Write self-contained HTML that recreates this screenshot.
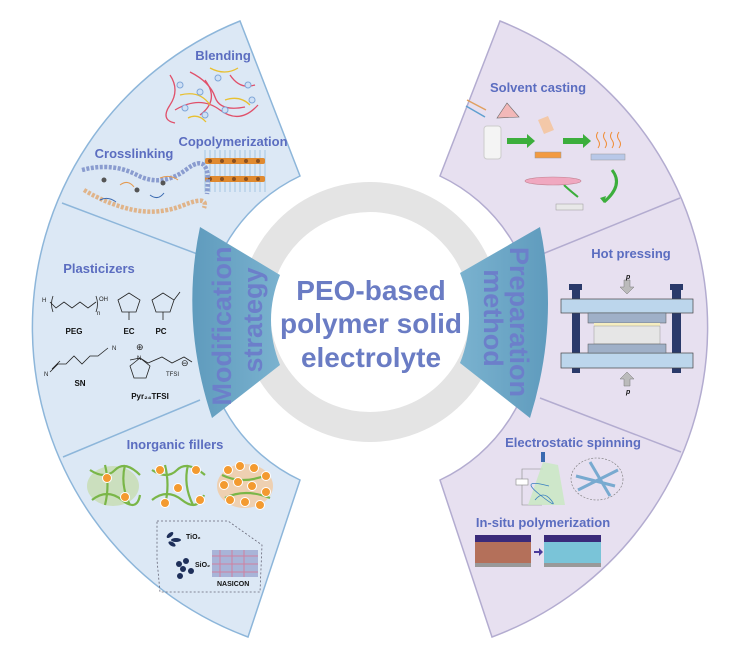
<!DOCTYPE html>
<html><head><meta charset="utf-8"><style>
html,body{margin:0;padding:0;background:#fff;}
svg{display:block;font-family:"Liberation Sans",sans-serif;}
.l{font-size:13px;font-weight:bold;fill:#5b6dc0;}
.c{font-size:8px;font-weight:bold;fill:#111;}
</style></head><body>
<svg width="736" height="650" viewBox="0 0 736 650" xmlns="http://www.w3.org/2000/svg">
<defs>
<linearGradient id="wl" x1="0" y1="0" x2="1" y2="0"><stop offset="0" stop-color="#5f9bbd"/><stop offset="1" stop-color="#7ab2cf"/></linearGradient>
<linearGradient id="wr" x1="1" y1="0" x2="0" y2="0"><stop offset="0" stop-color="#5f9bbd"/><stop offset="1" stop-color="#7ab2cf"/></linearGradient>
</defs>
<!-- fans -->
<path d="M240 21 A330 330 0 0 0 248 637 L300 480 A168 168 0 0 1 300 176 Z" fill="#dce8f5" stroke="#8db6da" stroke-width="1.5"/>
<path d="M500 21 A330 330 0 0 1 492 637 L440 480 A168 168 0 0 0 440 176 Z" fill="#e7e0f0" stroke="#b3acd0" stroke-width="1.5"/>
<line x1="62" y1="203" x2="200" y2="255" stroke="#8db6da" stroke-width="1.5"/>
<line x1="63" y1="457" x2="200" y2="400" stroke="#8db6da" stroke-width="1.5"/>
<line x1="680" y1="198" x2="540" y2="255" stroke="#b3acd0" stroke-width="1.5"/>
<line x1="681" y1="452" x2="540" y2="398" stroke="#b3acd0" stroke-width="1.5"/>
<!-- ring -->
<circle cx="370" cy="312" r="115" fill="none" stroke="#e4e4e4" stroke-width="30"/>
<!-- wedges -->
<path d="M200 227 L280 275 Q262 320 280 365 L212 418 Q180 322 200 227 Z" fill="url(#wl)"/>
<path d="M540 227 L460 273 Q478 318 460 363 L530 418 Q560 322 540 227 Z" fill="url(#wr)"/>
<text x="222" y="326" transform="rotate(-90 222 326)" text-anchor="middle" dominant-baseline="central" font-size="27" font-weight="bold" fill="#6c7fca">Modification</text>
<text x="253" y="320" transform="rotate(-90 253 320)" text-anchor="middle" dominant-baseline="central" font-size="27" font-weight="bold" fill="#6c7fca">strategy</text>
<text x="519" y="322" transform="rotate(90 519 322)" text-anchor="middle" dominant-baseline="central" font-size="27" font-weight="bold" fill="#6c7fca">Preparation</text>
<text x="493" y="318" transform="rotate(90 493 318)" text-anchor="middle" dominant-baseline="central" font-size="27" font-weight="bold" fill="#6c7fca">method</text>
<!-- center text -->
<g font-size="28" font-weight="bold" fill="#6a7cc4" text-anchor="middle">
<text x="371" y="300">PEO-based</text>
<text x="371" y="333">polymer solid</text>
<text x="371" y="367">electrolyte</text>
</g>
<!-- LEFT labels -->
<text class="l" x="223" y="60" text-anchor="middle">Blending</text>
<text class="l" x="233" y="146" text-anchor="middle">Copolymerization</text>
<text class="l" x="134" y="158" text-anchor="middle">Crosslinking</text>
<text class="l" x="99" y="273" text-anchor="middle">Plasticizers</text>
<text class="l" x="175" y="449" text-anchor="middle">Inorganic fillers</text>
<!-- blending -->
<g fill="none" stroke-width="1.3">
<path d="M170 75 q10 15 0 30 t5 18" stroke="#e0506a"/>
<path d="M190 72 q20 10 25 25 t30 10" stroke="#e0506a"/>
<path d="M175 110 q25 -15 45 0 t38 -5" stroke="#e0506a"/>
<path d="M205 80 q15 20 -5 35" stroke="#e0506a"/>
<path d="M230 75 q10 15 25 10" stroke="#e0506a"/>
<path d="M180 95 q20 -5 30 10" stroke="#e8c030"/>
<path d="M210 68 q15 8 28 0" stroke="#e8c030"/>
<path d="M225 100 q15 -5 25 5" stroke="#e8c030"/>
<path d="M188 118 q10 -5 18 4" stroke="#e8c030"/>
</g>
<g fill="#cfe0f5" stroke="#7fa6d8" stroke-width="1">
<circle cx="180" cy="85" r="3"/><circle cx="200" cy="92" r="3"/><circle cx="218" cy="78" r="3"/><circle cx="248" cy="85" r="3"/><circle cx="185" cy="108" r="3"/><circle cx="225" cy="110" r="3"/><circle cx="252" cy="100" r="3"/><circle cx="205" cy="115" r="3"/>
</g>
<!-- copolymerization -->
<g stroke="#7fb0d8" stroke-width="0.6">
<path d="M205 150 v42 M210 150 v42 M215 150 v42 M220 150 v42 M225 150 v42 M230 150 v42 M235 150 v42 M240 150 v42 M245 150 v42 M250 150 v42 M255 150 v42 M260 150 v42 M265 150 v42"/>
</g>
<g fill="#e08a30">
<rect x="205" y="158" width="60" height="6" rx="2"/><rect x="205" y="176" width="60" height="6" rx="2"/>
</g>
<g fill="#8a5020"><circle cx="210" cy="161" r="2"/><circle cx="222" cy="161" r="2"/><circle cx="234" cy="161" r="2"/><circle cx="246" cy="161" r="2"/><circle cx="258" cy="161" r="2"/><circle cx="210" cy="179" r="2"/><circle cx="222" cy="179" r="2"/><circle cx="234" cy="179" r="2"/><circle cx="246" cy="179" r="2"/><circle cx="258" cy="179" r="2"/></g>
<!-- crosslinking chains -->
<path d="M82 170 q30 -8 55 5 t50 -6 t20 25" fill="none" stroke="#8a9ccf" stroke-width="4.5" stroke-dasharray="3 1.5"/>
<path d="M84 190 q25 15 50 20 t50 -5 t20 3" fill="none" stroke="#e0b48a" stroke-width="4.5" stroke-dasharray="3 1.5"/>
<g fill="none" stroke-width="1"><path d="M120 185 q8 -6 14 2" stroke="#e49a50"/><path d="M150 195 q8 6 14 -2" stroke="#3a6ab0"/><path d="M100 200 q8 -4 16 2" stroke="#3a6ab0"/><path d="M160 178 q10 -4 18 2" stroke="#e49a50"/></g>
<g fill="#555"><circle cx="104" cy="180" r="2.5"/><circle cx="137" cy="190" r="2.5"/><circle cx="163" cy="183" r="2.5"/></g>
<!-- PEG -->
<g fill="none" stroke="#222" stroke-width="0.8">
<path d="M50 302 l6 6 l8 -6 l8 6 l8 -6 l8 6 l8 -6"/>
<path d="M53 296 q-3 8 0 16 M96 296 q3 8 0 16"/>
<path d="M118 300 l11 -7 l11 7 l-4 12 h-14 z"/><path d="M129 312 v8"/>
<path d="M152 300 l11 -7 l11 7 l-4 12 h-14 z"/><path d="M163 312 v8 M174 300 l6 -8"/>
<path d="M50 372 l8 -8 h8 l8 -8 l8 8 l8 -8 h8 l10 -8 M52 369 l8 -8"/>
<path d="M130 360 l10 -2 M140 358 l8 5 l14 -6 l10 6 l12 -6 l8 5"/>
<path d="M140 358 l-10 8 l4 12 h12 l4 -12 z"/>
</g>
<g font-size="6" fill="#222"><text x="42" y="302">H</text><text x="99" y="301">OH</text><text x="97" y="315">n</text><text x="44" y="376">N</text><text x="112" y="350">N</text><text x="137" y="360">N</text><text x="166" y="376">TFSI</text></g>
<g font-size="9" fill="#222"><text x="136" y="350">⊕</text><text x="181" y="366">⊖</text></g>
<text class="c" x="74" y="334" text-anchor="middle">PEG</text>
<text class="c" x="129" y="334" text-anchor="middle">EC</text>
<text class="c" x="161" y="334" text-anchor="middle">PC</text>
<text class="c" x="80" y="386" text-anchor="middle">SN</text>
<text class="c" x="150" y="399" text-anchor="middle">Pyr₂₄TFSI</text>
<!-- inorganic fillers -->
<ellipse cx="113" cy="486" rx="26" ry="20" fill="#c7dcb0" opacity="0.8"/>
<ellipse cx="245" cy="486" rx="28" ry="22" fill="#f3c9a0" opacity="0.8"/>
<g fill="none" stroke="#7ab648" stroke-width="2.2">
<path d="M90 470 q15 10 25 0 t25 5 M92 500 q15 -12 30 0 t18 -5 M105 465 q5 20 0 40 M125 465 q-5 20 5 40"/>
<path d="M152 470 q15 10 25 0 t28 5 M152 500 q15 -12 30 0 t22 -5 M165 465 q5 20 0 40 M188 465 q-5 20 5 40"/>
<path d="M222 475 q20 10 45 0 M225 498 q20 -10 45 0"/>
</g>
<g fill="#f39a30" stroke="#fff" stroke-width="1">
<circle cx="107" cy="478" r="4.5"/><circle cx="125" cy="497" r="4.5"/>
<circle cx="160" cy="470" r="4.5"/><circle cx="178" cy="488" r="4.5"/><circle cx="196" cy="470" r="4.5"/><circle cx="200" cy="500" r="4.5"/><circle cx="165" cy="503" r="4.5"/>
<circle cx="228" cy="470" r="4.5"/><circle cx="240" cy="466" r="4.5"/><circle cx="254" cy="468" r="4.5"/><circle cx="266" cy="476" r="4.5"/><circle cx="224" cy="485" r="4.5"/><circle cx="238" cy="482" r="4.5"/><circle cx="252" cy="486" r="4.5"/><circle cx="266" cy="492" r="4.5"/><circle cx="230" cy="500" r="4.5"/><circle cx="245" cy="502" r="4.5"/><circle cx="260" cy="505" r="4.5"/>
</g>
<path d="M157 521 L228 521 L262 545 L260 592 L160 592 L157 560 Z" fill="none" stroke="#667" stroke-width="0.8" stroke-dasharray="2 2"/>
<g fill="#1e2f5a"><ellipse cx="170" cy="535" rx="4" ry="2" transform="rotate(-40 170 535)"/><ellipse cx="176" cy="540" rx="5" ry="2"/><ellipse cx="172" cy="544" rx="4" ry="2" transform="rotate(30 172 544)"/>
<circle cx="179" cy="564" r="3"/><circle cx="186" cy="561" r="3"/><circle cx="183" cy="569" r="3"/><circle cx="191" cy="571" r="3"/><circle cx="180" cy="576" r="3"/></g>
<rect x="212" y="550" width="46" height="27" fill="#a8b4d8"/>
<g stroke="#d080a0" stroke-width="1"><path d="M212 556 h46 M212 564 h46 M212 572 h46 M220 550 v27 M232 550 v27 M244 550 v27"/></g>
<g font-size="7" font-weight="bold" fill="#111"><text x="186" y="539">TiO₂</text><text x="195" y="567">SiO₂</text><text x="217" y="586">NASICON</text></g>
<!-- RIGHT labels -->
<text class="l" x="538" y="92" text-anchor="middle">Solvent casting</text>
<text class="l" x="631" y="258" text-anchor="middle">Hot pressing</text>
<text class="l" x="573" y="447" text-anchor="middle">Electrostatic spinning</text>
<text class="l" x="543" y="527" text-anchor="middle">In-situ polymerization</text>
<!-- solvent casting -->
<g stroke-width="1.5"><line x1="467" y1="100" x2="486" y2="110" stroke="#e0a060"/><line x1="466" y1="106" x2="485" y2="117" stroke="#60a0d0"/></g>
<path d="M497 118 l10 -15 l12 14 z" fill="#f2b8b8" stroke="#666" stroke-width="0.6"/>
<rect x="484" y="126" width="17" height="33" rx="3" fill="#f4f4f4" stroke="#ccc"/>
<path d="M507 138 h20 v-4 l8 7 l-8 7 v-4 h-20 z" fill="#3cae3c"/>
<path d="M563 138 h20 v-4 l8 7 l-8 7 v-4 h-20 z" fill="#3cae3c"/>
<path d="M538 120 l10 -4 l6 14 l-10 4 z" fill="#f3c8a8"/>
<rect x="535" y="152" width="26" height="6" fill="#f29a40" stroke="#999" stroke-width="0.5"/>
<g fill="none" stroke="#f08a30" stroke-width="1"><path d="M598 148 q3 -4 0 -8 t0 -8"/><path d="M605 148 q3 -4 0 -8 t0 -8"/><path d="M612 148 q3 -4 0 -8 t0 -8"/><path d="M619 148 q3 -4 0 -8 t0 -8"/></g>
<rect x="591" y="154" width="34" height="6" fill="#b8c8e8" stroke="#999" stroke-width="0.5"/>
<path d="M612 170 q12 15 -8 32" fill="none" stroke="#3cae3c" stroke-width="3"/>
<path d="M600 198 l6 -2 l-2 7 z" fill="#3cae3c"/>
<path d="M578 197 q-10 -8 -14 -12" fill="none" stroke="#3cae3c" stroke-width="2"/>
<ellipse cx="553" cy="181" rx="28" ry="4" fill="#f0a8c0" stroke="#c08090" stroke-width="0.6"/>
<rect x="556" y="204" width="27" height="6" fill="#e8e8e8" stroke="#999" stroke-width="0.5"/>
<!-- hot press -->
<rect x="572" y="285" width="8" height="88" fill="#2a3a6a"/><rect x="672" y="285" width="9" height="88" fill="#2a3a6a"/>
<rect x="569" y="284" width="13" height="6" fill="#2a3a6a"/><rect x="670" y="284" width="13" height="6" fill="#2a3a6a"/>
<rect x="561" y="299" width="132" height="14" fill="#bcd6ec" stroke="#444" stroke-width="0.7"/>
<rect x="561" y="353" width="132" height="15" fill="#bcd6ec" stroke="#444" stroke-width="0.7"/>
<rect x="588" y="313" width="78" height="10" fill="#9fb0c8" stroke="#555" stroke-width="0.5"/>
<rect x="594" y="323" width="66" height="3" fill="#f5edc0"/>
<rect x="594" y="326" width="66" height="18" fill="#e6e6e6" stroke="#999" stroke-width="0.5"/>
<rect x="588" y="344" width="78" height="9" fill="#9fb0c8" stroke="#555" stroke-width="0.5"/>
<path d="M624 280 h6 v7 h4 l-7 7 l-7 -7 h4 z" fill="#bbb" stroke="#777" stroke-width="0.5"/>
<path d="M624 386 h6 v-7 h4 l-7 -7 l-7 7 h4 z" fill="#bbb" stroke="#777" stroke-width="0.5"/>
<g font-size="7" font-style="italic" font-weight="bold" fill="#111"><text x="626" y="279">p</text><text x="626" y="394">p</text></g>
<!-- electrospinning -->
<rect x="516" y="479" width="12" height="6" fill="#fff" stroke="#888" stroke-width="0.6"/>
<path d="M522 479 v-10 h21 M522 485 v20 h20" fill="none" stroke="#888" stroke-width="0.6"/>
<rect x="541" y="452" width="4" height="10" fill="#3a6ab0"/>
<path d="M543 462 L528 505 L565 505 L558 465 Z" fill="#c8e8c0" opacity="0.8"/>
<path d="M535 500 q8 -10 16 0 t-12 -6 t10 -8" fill="none" stroke="#3a80c0" stroke-width="0.8"/>
<ellipse cx="597" cy="479" rx="26" ry="21" fill="none" stroke="#777" stroke-width="0.6" stroke-dasharray="2 1.5"/>
<g stroke="#78aad0" stroke-width="3"><line x1="578" y1="490" x2="618" y2="470"/><line x1="590" y1="462" x2="610" y2="496"/><line x1="576" y1="476" x2="615" y2="486"/></g>
<!-- in-situ -->
<rect x="475" y="535" width="56" height="32" fill="#b4705a"/>
<rect x="475" y="535" width="56" height="7" fill="#3a2a7a"/>
<rect x="475" y="563" width="56" height="4" fill="#999"/>
<path d="M534 551 h5 v-3 l4 4 l-4 4 v-3 h-5 z" fill="#4a3a9a"/>
<rect x="544" y="535" width="57" height="32" fill="#7ac4d8"/>
<rect x="544" y="535" width="57" height="7" fill="#3a2a7a"/>
<rect x="544" y="563" width="57" height="4" fill="#999"/>
</svg>
</body></html>
